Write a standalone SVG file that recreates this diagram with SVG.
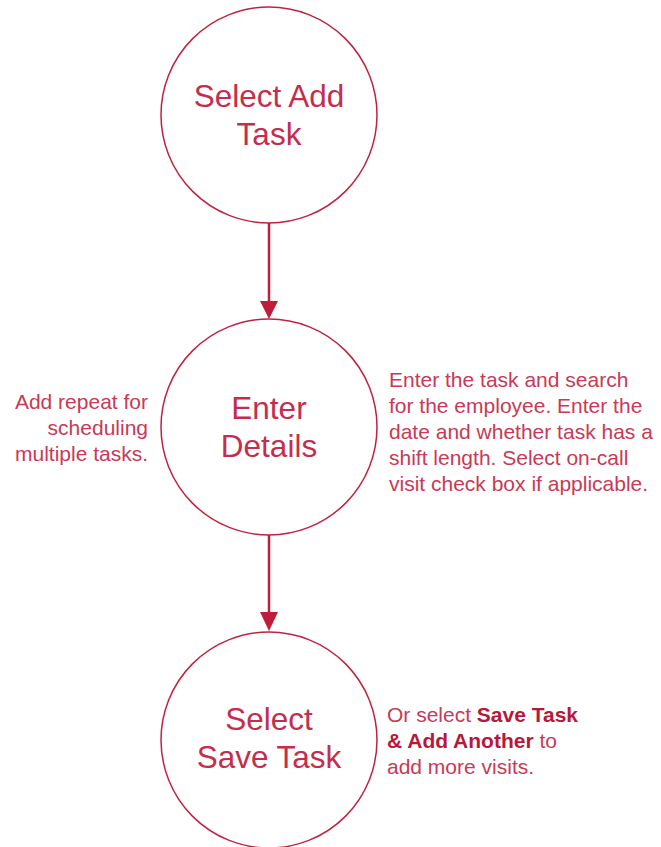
<svg xmlns="http://www.w3.org/2000/svg" width="661" height="847" viewBox="0 0 661 847">
<style>
.node{fill:#fff;stroke:#C0223F;stroke-width:1.5}
.big{font-family:"Liberation Sans",Arial,sans-serif;font-size:31.5px;fill:#C42E4C;text-anchor:middle}
.small{font-family:"Liberation Sans",Arial,sans-serif;font-size:21px;fill:#C83A55}
.b{font-weight:bold;fill:#B8183A}
.edge{stroke:#BE1E3C;stroke-width:2.5;fill:none}
.head{fill:#BE1E3C}
</style>
<rect width="661" height="847" fill="#fff"/>
<g id="connectors">
<line class="edge" x1="269" y1="223" x2="269" y2="303"/>
<polygon class="head" points="260,301 278,301 269,319"/>
<line class="edge" x1="269" y1="535" x2="269" y2="614"/>
<polygon class="head" points="260,612 278,612 269,631"/>
</g>
<g id="node1">
<circle class="node" cx="269" cy="115" r="108"/>
<text class="big" x="269" y="107">Select Add</text>
<text class="big" x="269" y="145">Task</text>
</g>
<g id="node2">
<circle class="node" cx="269" cy="427" r="108"/>
<text class="big" x="269" y="419">Enter</text>
<text class="big" x="269" y="457">Details</text>
</g>
<g id="node3">
<circle class="node" cx="269" cy="740" r="108"/>
<text class="big" x="269" y="730">Select</text>
<text class="big" x="269" y="768">Save Task</text>
</g>
<g id="note-left">
<text class="small" text-anchor="end" x="148" y="409">Add repeat for</text>
<text class="small" text-anchor="end" x="148" y="435">scheduling</text>
<text class="small" text-anchor="end" x="148" y="461">multiple tasks.</text>
</g>
<g id="note-right">
<text class="small" x="389" y="387">Enter the task and search</text>
<text class="small" x="389" y="413">for the employee. Enter the</text>
<text class="small" x="389" y="439">date and whether task has a</text>
<text class="small" x="389" y="465">shift length. Select on-call</text>
<text class="small" x="389" y="491">visit check box if applicable.</text>
</g>
<g id="note-bottom">
<text class="small" x="387" y="722">Or select <tspan class="b">Save Task</tspan></text>
<text class="small" x="387" y="748"><tspan class="b">&amp; Add Another</tspan> to</text>
<text class="small" x="387" y="774">add more visits.</text>
</g>
</svg>
